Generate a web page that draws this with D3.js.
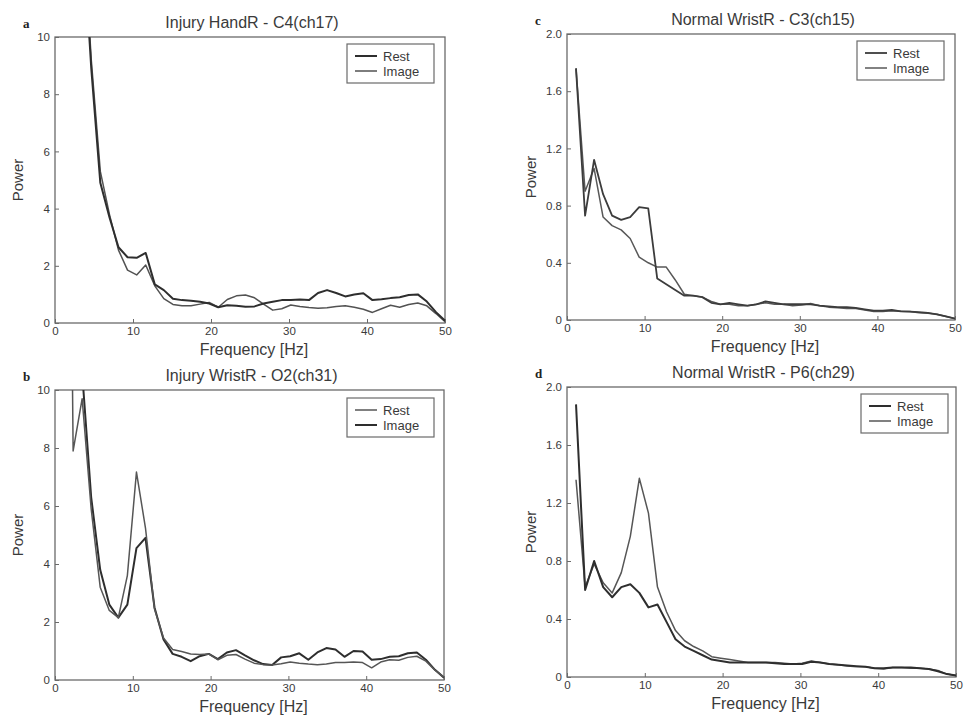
<!DOCTYPE html>
<html>
<head>
<meta charset="utf-8">
<script src="https://cdn.jsdelivr.net/npm/d3@7"></script>
<style>
  body { margin: 0; background: #fff; }
  svg { display: block; font-family: "Liberation Sans", Arial, sans-serif; }
</style>
</head>
<body>
<svg id="chart" width="964" height="715"></svg>
<script>
// frequency bins (Hz), shared by all four spectra
const freqHz = [0, 1.16, 2.33, 3.49, 4.65, 5.81, 6.98, 8.14, 9.3, 10.47, 11.63, 12.79, 13.95, 15.12,
  16.28, 17.44, 18.6, 19.77, 20.93, 22.09, 23.26, 24.42, 25.58, 26.74, 27.91, 29.07, 30.23, 31.4,
  32.56, 33.72, 34.88, 36.05, 37.21, 38.37, 39.53, 40.7, 41.86, 43.02, 44.19, 45.35, 46.51, 47.67,
  48.84, 50];

// a: Injury HandR - C4(ch17)
const handC4Rest = [30, 26, 19, 14, 8.9, 4.9, 3.7, 2.65, 2.3, 2.28, 2.45, 1.35, 1.15, 0.85,
  0.8, 0.78, 0.74, 0.68, 0.55, 0.62, 0.6, 0.57, 0.58, 0.68, 0.74, 0.8, 0.8, 0.82,
  0.8, 1.05, 1.15, 1.05, 0.93, 1.0, 1.04, 0.8, 0.83, 0.87, 0.9, 0.98, 1.0, 0.75,
  0.38, 0.08];
const handC4Image = [30, 26, 19, 14.5, 9.2, 5.3, 3.8, 2.55, 1.85, 1.68, 2.03, 1.3, 0.85, 0.65,
  0.6, 0.6, 0.66, 0.72, 0.55, 0.82, 0.95, 0.98, 0.88, 0.66, 0.45, 0.5, 0.63, 0.58,
  0.54, 0.52, 0.53, 0.58, 0.6, 0.55, 0.48, 0.37, 0.5, 0.62, 0.55, 0.65, 0.7, 0.6,
  0.33, 0.05];

// b: Injury WristR - O2(ch31)
const wristO2Rest = [40, 40, 7.9, 9.7, 5.9, 3.2, 2.4, 2.15, 3.6, 7.17, 5.24, 2.45, 1.45, 1.05,
  0.98, 0.9, 0.88, 0.9, 0.7, 0.85, 0.88, 0.72, 0.58, 0.53, 0.52, 0.56, 0.62, 0.58,
  0.55, 0.53, 0.55, 0.6, 0.6, 0.62, 0.6, 0.42, 0.62, 0.7, 0.68, 0.78, 0.82, 0.65,
  0.34, 0.1];
const wristO2Image = [40, 40, 25, 10.6, 6.3, 3.8, 2.6, 2.15, 2.6, 4.55, 4.9, 2.5, 1.4, 0.9,
  0.8, 0.65, 0.82, 0.9, 0.72, 0.95, 1.03, 0.85, 0.68, 0.55, 0.52, 0.78, 0.82, 0.92,
  0.7, 0.95, 1.1, 1.05, 0.8, 1.0, 0.98, 0.7, 0.72, 0.8, 0.82, 0.92, 0.95, 0.7,
  0.35, 0.08];

// c: Normal WristR - C3(ch15)
const normalC3Rest = [null, 1.76, 0.73, 1.12, 0.88, 0.73, 0.7, 0.72, 0.79, 0.78, 0.29, 0.25, 0.21, 0.17,
  0.17, 0.16, 0.12, 0.11, 0.12, 0.11, 0.1, 0.11, 0.13, 0.12, 0.11, 0.11, 0.11, 0.11,
  0.1, 0.095, 0.09, 0.09, 0.085, 0.075, 0.065, 0.065, 0.07, 0.06, 0.058, 0.055, 0.05, 0.04,
  0.025, 0.01];
const normalC3Image = [null, 1.76, 0.9, 1.06, 0.72, 0.66, 0.63, 0.57, 0.44, 0.4, 0.37, 0.37, 0.28, 0.18,
  0.17, 0.16, 0.13, 0.11, 0.11, 0.1, 0.1, 0.11, 0.12, 0.11, 0.11, 0.1, 0.105, 0.115,
  0.1, 0.09, 0.085, 0.08, 0.08, 0.07, 0.06, 0.06, 0.065, 0.062, 0.06, 0.05, 0.048, 0.04,
  0.025, 0.01];

// d: Normal WristR - P6(ch29)
const normalP6Rest = [null, 1.88, 0.6, 0.8, 0.62, 0.55, 0.62, 0.64, 0.58, 0.48, 0.5, 0.38, 0.26, 0.21,
  0.18, 0.15, 0.12, 0.11, 0.1, 0.1, 0.1, 0.1, 0.1, 0.095, 0.09, 0.09, 0.09, 0.105,
  0.1, 0.09, 0.085, 0.08, 0.075, 0.07, 0.06, 0.06, 0.065, 0.065, 0.065, 0.06, 0.055, 0.04,
  0.02, 0.01];
const normalP6Image = [null, 1.36, 0.62, 0.78, 0.65, 0.58, 0.72, 0.97, 1.37, 1.13, 0.62, 0.45, 0.32, 0.25,
  0.21, 0.18, 0.14, 0.13, 0.12, 0.11, 0.1, 0.1, 0.1, 0.1, 0.095, 0.09, 0.095, 0.11,
  0.1, 0.09, 0.085, 0.075, 0.07, 0.07, 0.06, 0.055, 0.065, 0.065, 0.06, 0.06, 0.055, 0.045,
  0.02, 0.01];

const xTicks = [0, 10, 20, 30, 40, 50];
const yTicksInjury = [0, 2, 4, 6, 8, 10];
const yTicksNormal = [0, 0.4, 0.8, 1.2, 1.6, 2.0];
const seriesNames = ['Rest', 'Image'];

const svg = d3.select('#chart');

// 每个子图的位置和样式
const panels = [
  { id: 'a', title: 'Injury HandR - C4(ch17)', rest: handC4Rest, image: handC4Image,
    yMax: 10, yTicks: yTicksInjury, fmt: d3.format('d'),
    box: { l: 55, t: 37, r: 445, b: 323 }, legend: { x: 347, y: 44 },
    restStyle: { c: '#2e2e2e', w: 2.0 }, imageStyle: { c: '#525252', w: 1.5 } },
  { id: 'c', title: 'Normal WristR - C3(ch15)', rest: normalC3Rest, image: normalC3Image,
    yMax: 2, yTicks: yTicksNormal, fmt: d => d === 0 ? '0' : d3.format('.1f')(d),
    box: { l: 567, t: 34, r: 955, b: 320 }, legend: { x: 857, y: 41 },
    restStyle: { c: '#3c3c3c', w: 1.8 }, imageStyle: { c: '#585858', w: 1.5 } },
  { id: 'b', title: 'Injury WristR - O2(ch31)', rest: wristO2Rest, image: wristO2Image,
    yMax: 10, yTicks: yTicksInjury, fmt: d3.format('d'),
    box: { l: 55, t: 390, r: 444, b: 680 }, legend: { x: 347, y: 398 },
    restStyle: { c: '#565656', w: 1.5 }, imageStyle: { c: '#2e2e2e', w: 2.0 } },
  { id: 'd', title: 'Normal WristR - P6(ch29)', rest: normalP6Rest, image: normalP6Image,
    yMax: 2, yTicks: yTicksNormal, fmt: d => d === 0 ? '0' : d3.format('.1f')(d),
    box: { l: 567, t: 387, r: 956, b: 677 }, legend: { x: 861, y: 394 },
    restStyle: { c: '#2e2e2e', w: 2.0 }, imageStyle: { c: '#565656', w: 1.5 } }
];

const frameColor = '#6a6a6a';
const textColor = '#3a3a3a';

panels.forEach(p => {
  const { l, t, r, b } = p.box;
  const g = svg.append('g');

  const x = d3.scaleLinear().domain([0, 50]).range([l, r]);
  const y = d3.scaleLinear().domain([0, p.yMax]).range([b, t]);

  // clip so the spectra that start above the top are cut off
  g.append('clipPath').attr('id', 'clip-' + p.id)
    .append('rect').attr('x', l).attr('y', t).attr('width', r - l).attr('height', b - t);

  // x axis, ticks pointing inward
  const xAxis = g.append('g')
    .attr('transform', `translate(0,${b})`)
    .call(d3.axisBottom(x).tickValues(xTicks).tickSizeInner(-4).tickSizeOuter(0).tickPadding(4));
  const yAxis = g.append('g')
    .attr('transform', `translate(${l},0)`)
    .call(d3.axisLeft(y).tickValues(p.yTicks).tickFormat(p.fmt).tickSizeInner(-4).tickSizeOuter(0).tickPadding(5));

  [xAxis, yAxis].forEach(ax => {
    ax.select('.domain').remove();
    ax.selectAll('line').attr('stroke', frameColor);
    ax.selectAll('text').attr('fill', textColor).style('font-size', '11.5px');
  });

  // frame
  g.append('rect')
    .attr('x', l).attr('y', t).attr('width', r - l).attr('height', b - t)
    .attr('fill', 'none').attr('stroke', frameColor).attr('stroke-width', 1.3);

  const line = d3.line()
    .defined(d => d[1] !== null)
    .x(d => x(d[0]))
    .y(d => y(d[1]));

  const lines = g.append('g').attr('clip-path', `url(#clip-${p.id})`);
  [[p.image, p.imageStyle], [p.rest, p.restStyle]].forEach(([vals, st]) => {
    lines.append('path')
      .datum(freqHz.map((f, i) => [f, vals[i]]))
      .attr('d', line)
      .attr('fill', 'none')
      .attr('stroke', st.c)
      .attr('stroke-width', st.w)
      .attr('stroke-linejoin', 'round');
  });

  // title
  g.append('text')
    .attr('x', (l + r) / 2 + 2).attr('y', t - 9)
    .attr('text-anchor', 'middle')
    .attr('fill', textColor)
    .style('font-size', '16px')
    .text(p.title);

  // panel letter
  g.append('text')
    .attr('x', l - 32).attr('y', t - 9)
    .attr('fill', '#222')
    .style('font-family', '"Liberation Serif", "Times New Roman", serif')
    .style('font-weight', 'bold')
    .style('font-size', '13px')
    .text(p.id);

  // axis labels
  g.append('text')
    .attr('x', (l + r) / 2 + 4).attr('y', b + 32)
    .attr('text-anchor', 'middle')
    .attr('fill', textColor)
    .style('font-size', '16px')
    .text('Frequency [Hz]');

  g.append('text')
    .attr('transform', `translate(${l - (p.yMax === 10 ? 32 : 31)},${(t + b) / 2}) rotate(-90)`)
    .attr('text-anchor', 'middle')
    .attr('fill', textColor)
    .style('font-size', '15px')
    .text('Power');

  // legend
  const lg = g.append('g').attr('transform', `translate(${p.legend.x},${p.legend.y})`);
  lg.append('rect')
    .attr('width', 87).attr('height', 39)
    .attr('fill', '#fff').attr('stroke', frameColor).attr('stroke-width', 1.2);
  [p.restStyle, p.imageStyle].forEach((st, i) => {
    const yy = 12 + i * 15;
    lg.append('line')
      .attr('x1', 8).attr('x2', 30).attr('y1', yy).attr('y2', yy)
      .attr('stroke', st.c).attr('stroke-width', st.w);
    lg.append('text')
      .attr('x', 36).attr('y', yy + 4.5)
      .attr('fill', textColor)
      .style('font-size', '13px')
      .text(seriesNames[i]);
  });
});
</script>
</body>
</html>
